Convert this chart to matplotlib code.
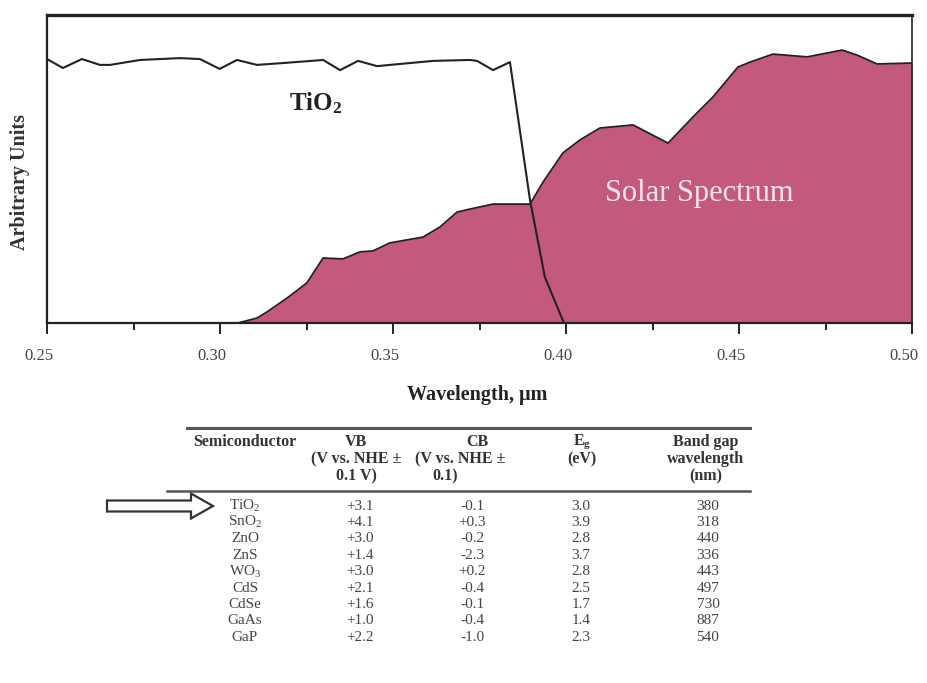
import matplotlib
matplotlib.use("Agg")
import matplotlib.pyplot as plt
from matplotlib.patches import FancyArrow
from matplotlib.lines import Line2D
from matplotlib.transforms import ScaledTranslation

plt.rcParams['font.family'] = ['Liberation Serif', 'DejaVu Serif']
plt.rcParams['mathtext.fontset'] = 'custom'
plt.rcParams['mathtext.rm'] = 'Liberation Serif'
plt.rcParams['mathtext.it'] = 'Liberation Serif:italic'
plt.rcParams['mathtext.bf'] = 'Liberation Serif:bold'

# TiO2 absorption (arbitrary units)
tio2_wl = [0.2500, 0.2546, 0.2601, 0.2653, 0.2682, 0.2769, 0.2884, 0.2942, 0.2999,
           0.3049, 0.3107, 0.3182, 0.3298, 0.3347, 0.3399, 0.3454, 0.3520, 0.3616,
           0.3723, 0.3743, 0.3789, 0.3838, 0.3896, 0.3939, 0.3994]
tio2_abs = [85.7, 82.8, 85.7, 83.8, 83.8, 85.4, 86.0, 85.7, 82.5,
            85.4, 83.8, 84.4, 85.4, 82.1, 85.1, 83.4, 84.1, 85.1,
            85.4, 85.1, 82.1, 84.7, 39.9, 14.9, 0.0]

# solar spectrum (arbitrary units)
solar_wl = [0.2500, 0.3052, 0.3107, 0.3136, 0.3194, 0.3251, 0.3298, 0.3355, 0.3405,
            0.3442, 0.3491, 0.3587, 0.3636, 0.3685, 0.3723, 0.3789, 0.3896, 0.3934,
            0.3991, 0.4040, 0.4098, 0.4194, 0.4295, 0.4367, 0.4425, 0.4497, 0.4532,
            0.4598, 0.4697, 0.4798, 0.4841, 0.4899, 0.5000]
solar_irr = [0.0, 0.0, 1.6, 3.6, 8.1, 13.0, 21.1, 20.8, 23.1,
             23.4, 26.0, 27.9, 31.2, 36.0, 37.0, 38.6, 38.6, 45.8,
             55.2, 59.4, 63.3, 64.3, 58.4, 66.9, 73.4, 83.1, 84.7,
             87.3, 86.4, 88.6, 87.0, 84.1, 84.4]

xticks = [0.25, 0.30, 0.35, 0.40, 0.45, 0.50]
xtick_labels = ['0.25', '0.30', '0.35', '0.40', '0.45', '0.50']

# band gap table
col_heads = [['Semiconductor'], ['VB', '(V vs. NHE \u00b1', '0.1 V)'],
             ['CB', '(V vs. NHE \u00b1', '0.1)'], [r'$\mathbf{E_g}$', '(eV)'],
             ['Band gap', 'wavelength', '(nm)']]
semis = ['TiO$_2$', 'SnO$_2$', 'ZnO', 'ZnS', 'WO$_3$', 'CdS', 'CdSe', 'GaAs', 'GaP']
vb = ['+3.1', '+4.1', '+3.0', '+1.4', '+3.0', '+2.1', '+1.6', '+1.0', '+2.2']
cb = ['-0.1', '+0.3', '-0.2', '-2.3', '+0.2', '-0.4', '-0.1', '-0.4', '-1.0']
eg = ['3.0', '3.9', '2.8', '3.7', '2.8', '2.5', '1.7', '1.4', '2.3']
gap_nm = ['380', '318', '440', '336', '443', '497', '730', '887', '540']

fig = plt.figure(figsize=(9.27, 6.83), dpi=100)
W, H = 927, 683
ax = fig.add_axes([47 / W, 1 - 323 / H, 865 / W, 308 / H])

ax.fill_between(solar_wl, solar_irr, 0, color='#c35a7d', linewidth=0)
ax.plot(solar_wl, solar_irr, color='#222222', linewidth=1.3)
ax.plot(tio2_wl, tio2_abs, color='#222222', linewidth=1.5)

ax.set_xlim(0.25, 0.50)
ax.set_ylim(0, 100)
ax.set_yticks([])
ax.set_xticks(xticks)
ax.set_xticklabels(xtick_labels)
ax.set_xticks([0.275, 0.325, 0.375, 0.425, 0.475], minor=True)
ax.tick_params(axis='x', which='major', direction='out', length=8, width=1.4,
               color='#222222', labelsize=12, labelcolor='#444444', pad=10)
ax.tick_params(axis='x', which='minor', direction='out', length=5, width=1.4,
               color='#222222')
for lab in ax.get_xticklabels():
    lab.set_transform(lab.get_transform() + ScaledTranslation(-0.08, 0, fig.dpi_scale_trans))
ax.spines['top'].set_linewidth(2.4)
ax.spines['left'].set_linewidth(1.6)
ax.spines['bottom'].set_linewidth(1.6)
ax.spines['right'].set_linewidth(1.2)
for s in ax.spines.values():
    s.set_color('#222222')

ax.text(0.3277, 71.4, r'$\mathbf{TiO_2}$', fontsize=18, ha='center', va='center',
        color='#222222')
ax.text(0.4384, 42.2, 'Solar Spectrum', fontsize=22, ha='center', va='center',
        color='#f6e4ea')

fig.text(20 / W, 1 - 182 / H, 'Arbitrary Units', rotation=90, fontsize=14.5,
         fontweight='bold', ha='center', va='center', color='#333333')
fig.text(477 / W, 1 - 395 / H, 'Wavelength, \u03bcm', fontsize=14.5,
         fontweight='bold', ha='center', va='center', color='#222222')

# table drawn in pixel coordinates
tab = fig.add_axes([0, 0, 1, 1])
tab.set_xlim(0, W)
tab.set_ylim(H, 0)
tab.axis('off')
tab.patch.set_alpha(0)

tab.add_line(Line2D([187, 750], [428, 428], color='#555555', linewidth=2.2))
tab.add_line(Line2D([167, 750], [491, 491], color='#555555', linewidth=1.8))

head_x = [245, 356, 477, 582, 706]
for cx, lines in zip(head_x, col_heads):
    for j, t in enumerate(lines):
        x = cx
        if lines[0] == 'CB' and j == 1:
            x = 460
        if lines[0] == 'CB' and j == 2:
            x = 445
        tab.text(x, 442 + 17 * j, t, fontsize=11.5, fontweight='bold', ha='center',
                 va='center', color='#333333')

data_x = [245, 360, 472, 581, 708]
for i in range(len(semis)):
    y = 506 + 16.4 * i
    for cx, col in zip(data_x, [semis, vb, cb, eg, gap_nm]):
        tab.text(cx, y, col[i], fontsize=11, ha='center', va='center', color='#444444')

tab.add_patch(FancyArrow(107, 506, 106, 0, width=11, head_width=25, head_length=22,
                         length_includes_head=True, facecolor='white',
                         edgecolor='#333333', linewidth=1.6))

fig.savefig('out.png', dpi=100)
